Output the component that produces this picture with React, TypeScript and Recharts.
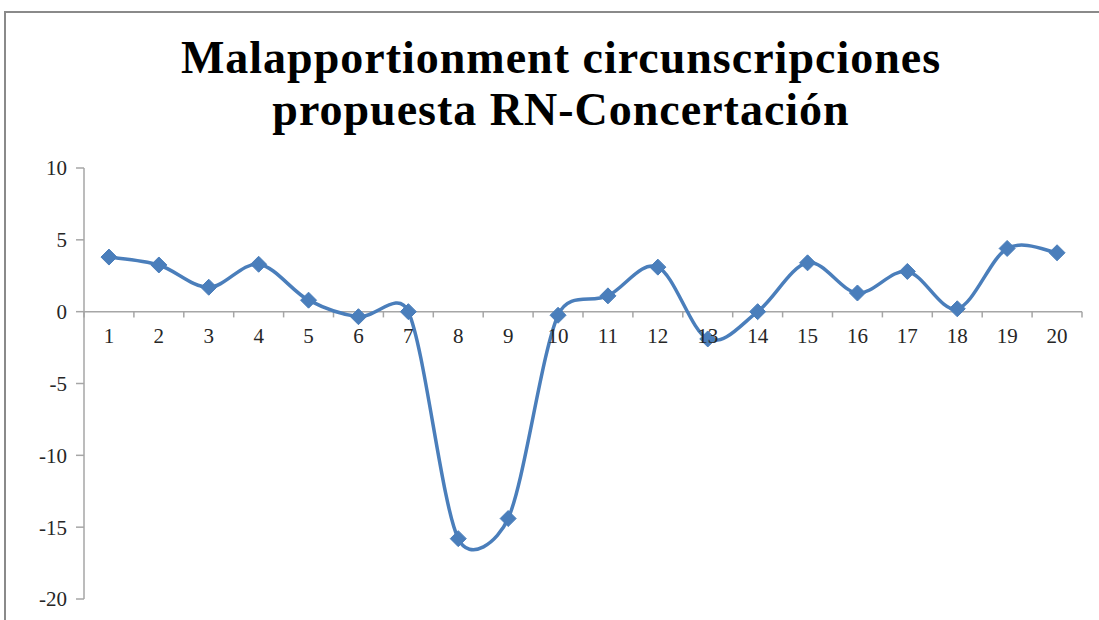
import React from 'react';
import { LineChart, Line, XAxis, YAxis, ReferenceLine, LabelList } from 'recharts';

const categories: number[] = [1, 2, 3, 4, 5, 6, 7, 8, 9, 10, 11, 12, 13, 14, 15, 16, 17, 18, 19, 20];
const values: number[] = [3.8, 3.25, 1.7, 3.3, 0.8, -0.35, 0.0, -15.8, -14.4, -0.25, 1.1, 3.1, -1.9, 0.0, 3.4, 1.3, 2.8, 0.2, 4.4, 4.1];
const yTicks: number[] = [-20, -15, -10, -5, 0, 5, 10];
const titleLines: string[] = ['Malapportionment circunscripciones', 'propuesta RN-Concertación'];

const data = categories.map((c, i) => ({ x: c, label: String(c), v: values[i], zero: 0 }));
const boundaries = [...categories.map((c) => c - 0.5), categories[categories.length - 1] + 0.5];

const BLUE = '#4A7EBB';
const AXIS = '#a6a6a6';
const FONT = '"Liberation Serif", "Times New Roman", serif';

// Excel-like smoothing: Catmull-Rom handles, each clamped to half the adjacent segment
const excelSmooth = (context: any) => {
  let pts: number[][] = [];
  const dist = (a: number[], b: number[]) => Math.hypot(b[0] - a[0], b[1] - a[1]);
  return {
    areaStart() {},
    areaEnd() {},
    lineStart() {
      pts = [];
    },
    point(x: number, y: number) {
      pts.push([+x, +y]);
    },
    lineEnd() {
      if (!pts.length) return;
      const n = pts.length;
      const handles = pts.map((p, i) => {
        const prev = pts[i - 1] || p;
        const next = pts[i + 1] || p;
        const tx = (next[0] - prev[0]) / 6;
        const ty = (next[1] - prev[1]) / 6;
        const tl = Math.hypot(tx, ty) || 1;
        const inLen = Math.min(tl, dist(prev, p) / 2);
        const outLen = Math.min(tl, dist(p, next) / 2);
        return {
          inX: p[0] - (tx / tl) * inLen,
          inY: p[1] - (ty / tl) * inLen,
          outX: p[0] + (tx / tl) * outLen,
          outY: p[1] + (ty / tl) * outLen,
        };
      });
      context.moveTo(pts[0][0], pts[0][1]);
      for (let i = 0; i < n - 1; i++) {
        const h1 = handles[i];
        const h2 = handles[i + 1];
        context.bezierCurveTo(h1.outX, h1.outY, h2.inX, h2.inY, pts[i + 1][0], pts[i + 1][1]);
      }
    },
  };
};

const Diamond = (props: any) => {
  const { cx, cy } = props;
  if (cx == null || cy == null) return null;
  const r = 8;
  return (
    <polygon
      points={`${cx},${cy - r} ${cx + r},${cy} ${cx},${cy + r} ${cx - r},${cy}`}
      fill={BLUE}
      stroke={BLUE}
      strokeWidth={1}
    />
  );
};

export default function App() {
  return (
    <div style={{ position: 'absolute', left: 0, top: 0, width: 1099, height: 620, overflow: 'hidden', background: '#fff' }}>
      <div
        style={{
          position: 'absolute',
          left: 4,
          top: 11,
          width: 1200,
          height: 800,
          borderLeft: '2px solid #8a8a8a',
          borderTop: '2px solid #8a8a8a',
        }}
      />
      <div
        style={{
          position: 'absolute',
          left: 0,
          top: 32,
          width: 1122,
          textAlign: 'center',
          fontFamily: FONT,
          fontWeight: 'bold',
          fontSize: 46,
          lineHeight: '52px',
          letterSpacing: 1,
          color: '#000',
        }}
      >
        {titleLines.map((t) => (
          <div key={t}>{t}</div>
        ))}
      </div>
      <div style={{ position: 'absolute', left: 0, top: 0 }}>
        <LineChart width={1099} height={620} data={data} margin={{ top: 168, right: 17, bottom: 21, left: 24 }}>
          <XAxis dataKey="x" type="number" domain={[0.5, 20.5]} hide />
          <YAxis
            type="number"
            domain={[-20, 10]}
            ticks={yTicks}
            interval={0}
            width={60}
            axisLine={{ stroke: AXIS, strokeWidth: 1.5 }}
            tickLine={{ stroke: AXIS, strokeWidth: 1.5 }}
            tickSize={8}
            tickMargin={9}
            tick={{ fill: '#262626', fontFamily: FONT, fontSize: 21 }}
          />
          <ReferenceLine y={0} stroke={AXIS} strokeWidth={1.5} />
          {boundaries.map((b) => (
            <ReferenceLine
              key={b}
              segment={[
                { x: b, y: 0 },
                { x: b, y: -0.4 },
              ]}
              stroke={AXIS}
              strokeWidth={1.5}
            />
          ))}
          <Line dataKey="zero" stroke="none" dot={false} isAnimationActive={false} legendType="none">
            <LabelList
              dataKey="label"
              position="bottom"
              offset={16}
              style={{ fill: '#262626', fontFamily: FONT, fontSize: 21 }}
            />
          </Line>
          <Line
            dataKey="v"
            type={excelSmooth as any}
            stroke={BLUE}
            strokeWidth={3.5}
            dot={<Diamond />}
            activeDot={false}
            isAnimationActive={false}
          />
        </LineChart>
      </div>
    </div>
  );
}
